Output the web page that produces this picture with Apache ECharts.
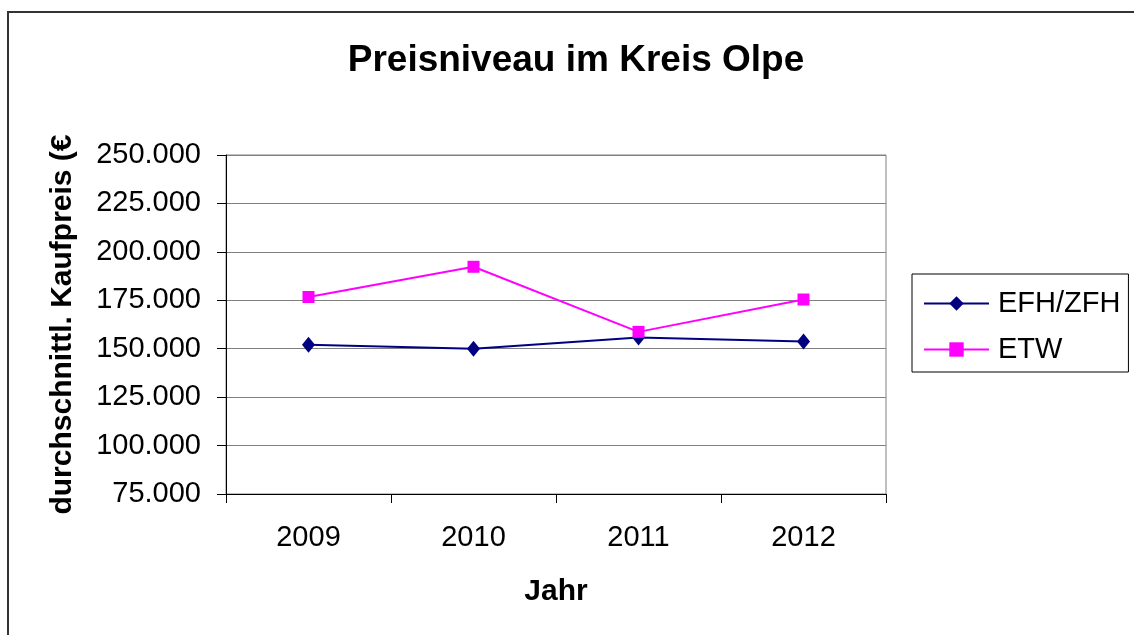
<!DOCTYPE html>
<html>
<head>
<meta charset="utf-8">
<title>Preisniveau im Kreis Olpe</title>
<script src="https://cdn.jsdelivr.net/npm/echarts@6/dist/echarts.min.js"></script>
<style>
    html, body { margin: 0; padding: 0; background: #fff; }
    #frame { position: absolute; left: 7px; top: 11px; width: 1127px; height: 624px;
             border-top: 2px solid #333; border-left: 2px solid #333; box-sizing: border-box; }
    #main { position: absolute; left: 0; top: 0; width: 1134px; height: 635px; }
</style>
</head>
<body>
<div id="frame"></div>
<div id="main"></div>
<script>
// Daten
const years = ['2009', '2010', '2011', '2012'];
const efhZfh = [152000, 150000, 155800, 153700];
const etw = [176700, 192300, 158700, 175400];
const yMin = 75000;
const yMax = 250000;
const yStep = 25000;

const font = "'Liberation Sans', Arial, sans-serif";

const fmt = (v) => String(v).replace(/\B(?=(\d{3})+(?!\d))/g, '.');

const chart = echarts.init(document.getElementById('main'));
chart.setOption({
    animation: false,
    title: {
        text: 'Preisniveau im Kreis Olpe',
        left: 571,
        textAlign: 'center',
        top: 37,
        textStyle: { fontFamily: font, fontSize: 37, fontWeight: 'bold', color: '#000' }
    },
    legend: {
        orient: 'vertical',
        left: 912,
        top: 274,
        padding: [15, 8, 8, 11],
        itemGap: 17,
        itemWidth: 65,
        itemHeight: 18,
        backgroundColor: '#fff',
        borderColor: '#000',
        borderWidth: 1,
        borderRadius: 0,
        textStyle: { fontFamily: font, fontSize: 29, color: '#000', padding: [0, 0, 0, 4] },
        data: ['EFH/ZFH', 'ETW']
    },
    grid: {
        left: 226, top: 155, right: 248, bottom: 141,
        show: true, borderColor: '#808080', borderWidth: 1
    },
    xAxis: {
        type: 'category',
        data: years,
        boundaryGap: true,
        name: 'Jahr',
        nameLocation: 'middle',
        nameGap: 83,
        nameTextStyle: { fontFamily: font, fontSize: 30, fontWeight: 'bold', color: '#000' },
        axisLine: { lineStyle: { color: '#000', width: 1 } },
        axisTick: { show: true, inside: false, length: 9, alignWithLabel: false, lineStyle: { color: '#000' } },
        axisLabel: { fontFamily: font, fontSize: 29, color: '#000', margin: 29 },
        splitLine: { show: false }
    },
    yAxis: {
        type: 'value',
        min: yMin,
        max: yMax,
        interval: yStep,
        name: 'durchschnittl. Kaufpreis (€',
        nameLocation: 'middle',
        nameGap: 148,
        nameRotate: 90,
        nameTextStyle: { fontFamily: font, fontSize: 30, fontWeight: 'bold', color: '#000' },
        axisLine: { show: true, lineStyle: { color: '#000', width: 1 } },
        axisTick: { show: true, inside: false, length: 9, lineStyle: { color: '#000' } },
        axisLabel: { fontFamily: font, fontSize: 29, color: '#000', margin: 25, formatter: fmt },
        splitLine: { show: true, lineStyle: { color: '#808080', width: 1 } }
    },
    series: [
        {
            name: 'EFH/ZFH',
            type: 'line',
            data: efhZfh,
            symbol: 'diamond',
            symbolSize: [13, 16],
            lineStyle: { color: '#000080', width: 2 },
            itemStyle: { color: '#000080' }
        },
        {
            name: 'ETW',
            type: 'line',
            data: etw,
            symbol: 'rect',
            symbolSize: 12,
            lineStyle: { color: '#ff00ff', width: 2 },
            itemStyle: { color: '#ff00ff' }
        }
    ]
});
</script>
</body>
</html>
